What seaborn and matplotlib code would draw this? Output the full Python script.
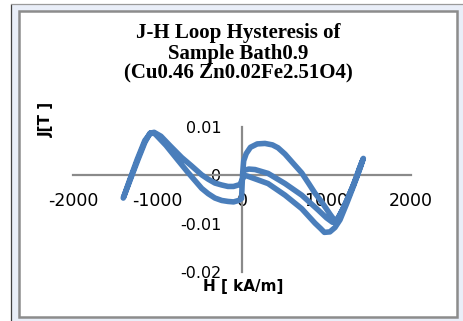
import matplotlib
matplotlib.use("Agg")
import matplotlib.pyplot as plt
from matplotlib.patches import Rectangle
from matplotlib.lines import Line2D
import numpy as np
import pandas as pd
import seaborn as sns

# Measured J-H loop, in the order the field was swept
H_kAm = [
    20, 80, 154, 308, 509, 707, 903, 1000, 1070, 1110,
    1160, 1240, 1320, 1390, 1436,
    1400, 1320, 1240, 1160, 1100, 1040, 975, 930, 864, 707, 509, 308, 150, 71, 30, 5,
    -24, -100, -166, -240, -320, -400, -477, -600, -714, -850, -960, -1040, -1090,
    -1150, -1230, -1320, -1405,
    -1330, -1240, -1150, -1080, -1030, -900, -780, -640, -477, -400, -320, -240,
    -166, -100, -40, -5,
    0, 8, 20, 50, 100, 180, 272, 360, 426, 509, 600, 707, 790, 864, 930, 982,
    1040, 1090, 1130, 1200, 1280, 1360, 1420,
]
J_T = [
    0.0010, 0.0013, 0.0012, 0.0004, -0.0017, -0.0041, -0.0072, -0.0088, -0.0097, -0.0097,
    -0.0082, -0.0052, -0.0019, 0.0015, 0.0035,
    0.0016, -0.0022, -0.0058, -0.0092, -0.0108, -0.0117, -0.0118, -0.0110, -0.0099,
    -0.0069, -0.0041, -0.0017, -0.0007, -0.0002, 0.0000, -0.0008,
    -0.0019, -0.0023, -0.0023, -0.0020, -0.0016, -0.0008, 0.0001, 0.0020, 0.0037,
    0.0061, 0.0081, 0.0089, 0.0087, 0.0068, 0.0033, -0.0008, -0.0047,
    -0.0010, 0.0033, 0.0072, 0.0088, 0.0086, 0.0062, 0.0036, 0.0006, -0.0027, -0.0038,
    -0.0047, -0.0052, -0.0054, -0.0055, -0.0052, -0.0048,
    -0.0025, 0.0005, 0.0030, 0.0045, 0.0058, 0.0065, 0.0066, 0.0063, 0.0057, 0.0044,
    0.0026, 0.0005, -0.0017, -0.0037, -0.0052, -0.0065,
    -0.0080, -0.0092, -0.0090, -0.0068, -0.0036, -0.0002, 0.0028,
]

x_ticks = [-2000, -1000, 0, 1000, 2000]
y_ticks = [-0.02, -0.01, 0, 0.01]
y_tick_labels = ["-0.02", "-0.01", "0", "0.01"]
title_lines = ["J-H Loop Hysteresis of", "Sample Bath0.9", "(Cu0.46 Zn0.02Fe2.51O4)"]

df = pd.DataFrame({"H": H_kAm, "J": J_T, "step": np.arange(len(H_kAm))})

sns.set_theme(style="white")
plt.rcParams["font.family"] = ["DejaVu Sans"]
plt.rcParams["axes.unicode_minus"] = False

W, HP = 464, 321
fig = plt.figure(figsize=(W / 100, HP / 100), dpi=100)
fig.patch.set_facecolor("white")


def fx(px):
    return px / W


def fy(py):
    return 1 - py / HP


# chart frame: pale outer band and grey-bordered white plot area
fig.patches.append(Rectangle((fx(11.5), fy(321)), (W - 11.5) / W, (321 - 3.5) / HP,
                             transform=fig.transFigure, facecolor="#E9EEF8",
                             edgecolor="none", zorder=-2))
fig.lines.append(Line2D([fx(11.5), fx(11.5)], [fy(3.5), fy(321)], transform=fig.transFigure,
                        color="#404040", lw=0.9, zorder=-1))
fig.lines.append(Line2D([fx(11.5), fx(464)], [fy(3.5), fy(3.5)], transform=fig.transFigure,
                        color="#9A9A9A", lw=0.9, zorder=-1))
fig.patches.append(Rectangle((fx(18.5), fy(316.5)), (457 - 18.5) / W, (316.5 - 10.5) / HP,
                             transform=fig.transFigure, facecolor="white",
                             edgecolor="#8C8C8C", lw=1.8, zorder=-1))

ax = fig.add_axes([fx(73), fy(272), (411 - 73) / W, (272 - 127) / HP])
ax.set_zorder(2)
ax.set_facecolor("none")

sns.lineplot(data=df, x="H", y="J", sort=False, estimator=None, ax=ax,
             color="#4A7EBB", lw=4.0, zorder=2,
             solid_capstyle="round", solid_joinstyle="round")

ax.set_xlim(-2000, 2000)
ax.set_ylim(-0.02, 0.01)
ax.set_xticks(x_ticks)
ax.set_xticklabels([str(v) for v in x_ticks])
ax.set_yticks(y_ticks)
ax.set_yticklabels(y_tick_labels)
ax.set_xlabel("")
ax.set_ylabel("")

for side in ("top", "right"):
    ax.spines[side].set_visible(False)
for side in ("left", "bottom"):
    ax.spines[side].set_position(("data", 0))
    ax.spines[side].set_color("#8A8A8A")
    ax.spines[side].set_linewidth(1.6)
    ax.spines[side].set_zorder(1)

ax.tick_params(axis="x", length=0, pad=12, labelsize=12.5, labelcolor="black")
ax.tick_params(axis="y", length=0, pad=15, labelsize=11.5, labelcolor="black")
ax.grid(False)

# title block
for text, base in zip(title_lines, [38.3, 59.3, 78.3]):
    fig.text(fx(238), fy(base), text, ha="center", va="baseline",
             family="Liberation Serif", weight="bold", size=15, color="black")

# axis titles
fig.text(fx(46), fy(119), "J[T ]", rotation=90, ha="center", va="center",
         weight="bold", size=11, color="black")
fig.text(fx(243), fy(286), "H [ kA/m]", ha="center", va="center",
         weight="bold", size=11, color="black")

fig.savefig("out.png", dpi=100)
